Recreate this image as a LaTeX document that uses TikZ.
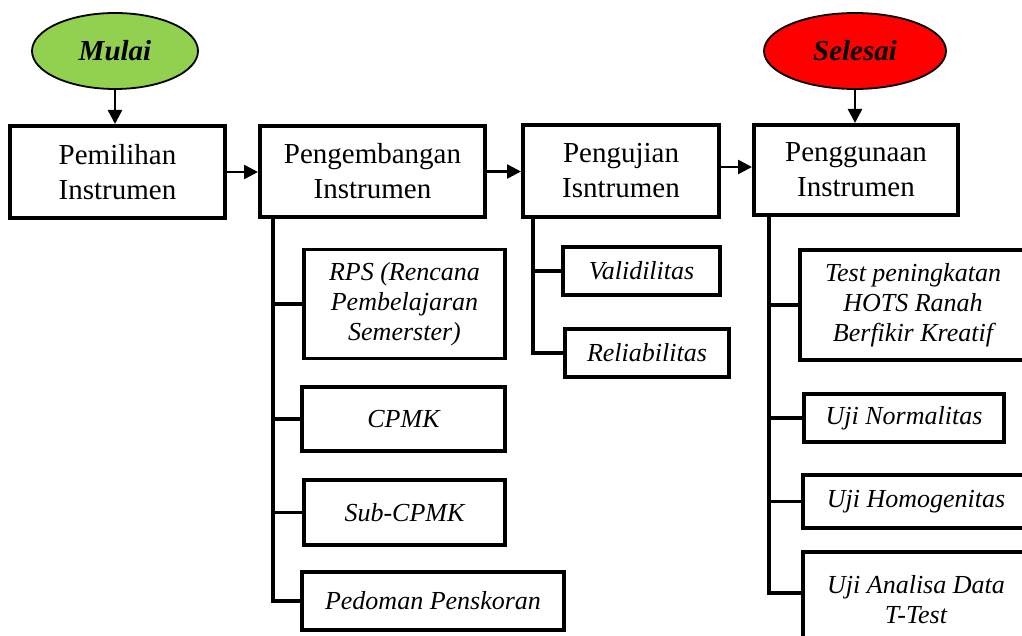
\documentclass[tikz,border=0pt]{standalone}
\usepackage{fontspec}
\setmainfont{Liberation Serif}
\usetikzlibrary{arrows.meta,shapes.geometric}
\definecolor{startgreen}{HTML}{92D050}
\definecolor{endred}{HTML}{FF0000}
\tikzset{
  mainbox/.style={draw, line width=4pt, rectangle, align=center, inner sep=0pt,
    font=\fontsize{29}{35}\selectfont},
  subbox/.style={draw, line width=3.5pt, rectangle, align=center, inner sep=0pt,
    font=\itshape\fontsize{26}{30}\selectfont},
  term/.style={draw, line width=1.8pt, ellipse, inner sep=0pt,
    font=\bfseries\itshape\fontsize{29}{35}\selectfont},
  flow/.style={line width=2.5pt, -{Triangle[length=14pt,width=14pt]}},
  tree/.style={line width=3.8pt}
}
\begin{document}
\begin{tikzpicture}[x=1pt,y=-1pt]
\useasboundingbox (0,0) rectangle (1022,636);
\clip (0,0) rectangle (1022,636);
% terminals
\node[term, fill=startgreen, minimum width=166pt, minimum height=76pt] (mulai) at (115,51) {Mulai};
\node[term, fill=endred, minimum width=182pt, minimum height=76pt] (selesai) at (855,51) {Selesai};
% main boxes
\node[mainbox, minimum width=215pt, minimum height=92pt] (b1) at (117.5,172) {Pemilihan\\Instrumen};
\node[mainbox, minimum width=225pt, minimum height=91pt] (b2) at (372.5,171.5) {Pengembangan\\Instrumen};
\node[mainbox, minimum width=196pt, minimum height=92pt] (b3) at (621,171) {Pengujian\\Isntrumen};
\node[mainbox, minimum width=204pt, minimum height=90pt] (b4) at (856,170) {Penggunaan\\Instrumen};
% sub boxes of b2
\node[subbox, minimum width=201pt, minimum height=109pt] (rps) at (404.5,304) {RPS (Rencana\\Pembelajaran\\Semerster)};
\node[subbox, minimum width=203pt, minimum height=64pt] (cpmk) at (403.5,419) {CPMK};
\node[subbox, minimum width=201pt, minimum height=65pt] (sub) at (404.5,512.5) {Sub-CPMK};
\node[subbox, minimum width=262pt, minimum height=58pt] (ped) at (433,601) {Pedoman Penskoran};
% sub boxes of b3
\node[subbox, minimum width=157pt, minimum height=48pt] (val) at (641.5,271) {Validilitas};
\node[subbox, minimum width=164pt, minimum height=48pt] (rel) at (647,353) {Reliabilitas};
% sub boxes of b4
\node[subbox, minimum width=226pt, minimum height=110pt] (test) at (913,305) {Test peningkatan\\HOTS Ranah\\Berfikir Kreatif};
\node[subbox, minimum width=200pt, minimum height=48pt] (norm) at (904,418) {Uji Normalitas};
\node[subbox, minimum width=226pt, minimum height=53pt] (homo) at (916,501.5) {Uji Homogenitas};
\node[subbox, minimum width=226pt, minimum height=96pt] (anal) at (916,600) {Uji Analisa Data\\T-Test};
\coordinate (a3) at ([yshift=4pt]b3.east);
\coordinate (analin) at ([yshift=7pt]anal.west);
% flow arrows
\draw[flow] (mulai.south) -- (b1.north -| mulai.south);
\draw[flow] (selesai.south) -- (b4.north -| selesai.south);
\draw[flow] (b1.east) -- (b2.west |- b1.east);
\draw[flow] (b2.east) -- (b3.west |- b2.east);
\draw[flow] (a3) -- (b4.west |- a3);
% tree under b2
\draw[tree] ([xshift=15pt]b2.south west) |- (ped.west);
\draw[tree] ([xshift=15pt]b2.south west |- rps.west) -- (rps.west);
\draw[tree] ([xshift=15pt]b2.south west |- cpmk.west) -- (cpmk.west);
\draw[tree] ([xshift=15pt]b2.south west |- sub.west) -- (sub.west);
% tree under b3
\draw[tree] ([xshift=12pt]b3.south west) |- (rel.west);
\draw[tree] ([xshift=12pt]b3.south west |- val.west) -- (val.west);
% tree under b4
\draw[tree] ([xshift=17pt]b4.south west) |- (analin);
\draw[tree] ([xshift=17pt]b4.south west |- test.west) -- (test.west);
\draw[tree] ([xshift=17pt]b4.south west |- norm.west) -- (norm.west);
\draw[tree] ([xshift=17pt]b4.south west |- homo.west) -- (homo.west);
\end{tikzpicture}
\end{document}
